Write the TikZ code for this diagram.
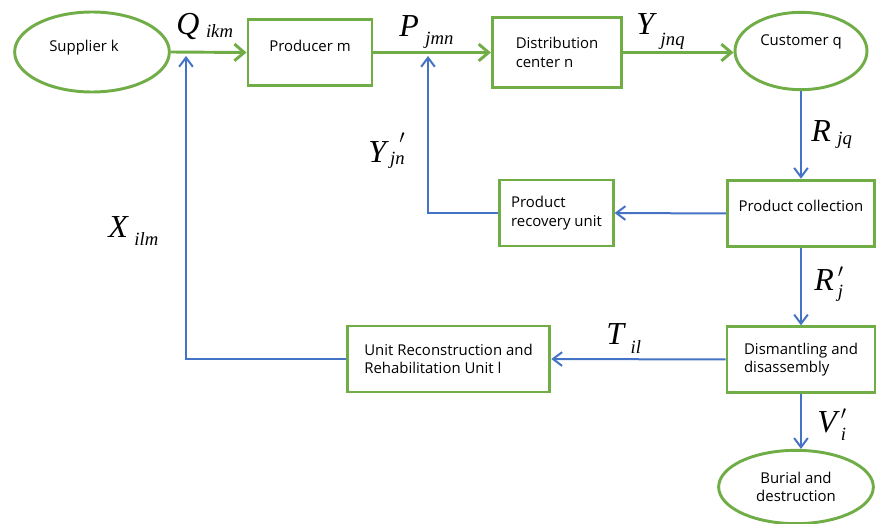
\documentclass[tikz,border=0pt]{standalone}
\usepackage{fontspec}
\setmainfont{Open Sans}
\newfontfamily\varfont{Liberation Serif}
\usetikzlibrary{arrows.meta,shapes.geometric}
\definecolor{leaf}{HTML}{70AD47}
\definecolor{steel}{HTML}{4472C4}
\newcommand\flowvar[3]{{\fontsize{24}{24}\selectfont #1}\hspace{5pt}%
  \raisebox{-#3}{\fontsize{14}{14}\selectfont #2}}
\newcommand\flowvarp[3]{{\fontsize{24}{24}\selectfont #1}\hspace{3pt}%
  \raisebox{-#3}{\fontsize{14}{14}\selectfont\shortstack[r]{%
    $\prime$\\[3pt]#2}}}

\begin{document}
\begin{tikzpicture}[
  x=0.75pt, y=-0.75pt,
  font=\fontsize{11.2}{14}\selectfont,
  stage/.style={draw=leaf, fill=white, line width=2.2pt,
                align=left, inner sep=2pt},
  site/.style={draw=leaf, fill=white, line width=2.2pt,
               ellipse, align=center, inner sep=1pt},
  fwd/.style={-{Straight Barb[length=2.6mm,width=4.4mm]},
              line width=2.2pt, draw=leaf},
  ret/.style={-{Straight Barb[length=2.4mm,width=3.6mm]},
              line width=1.5pt, draw=steel},
  qty/.style={font=\varfont\itshape, anchor=base west, inner sep=0pt},
]
\useasboundingbox (0,0) rectangle (876,524);

\node[site, minimum width=116pt, minimum height=60pt, text depth=10pt]
  (sup) at (92,52) {Supplier k\hspace*{12pt}};
\node[stage, minimum width=93pt, minimum height=50pt, text depth=10pt]
  (prod) at (310,52.5) {Producer m};
\node[stage, minimum width=97pt, minimum height=52pt]
  (dist) at (557,52.5) {Distribution\\ center n};
\node[site, minimum width=99pt, minimum height=58pt, text depth=16pt]
  (cust) at (801,51) {Customer q};

\node[stage, minimum width=110pt, minimum height=50pt, text depth=11pt]
  (pcol) at (801,213.5) {Product collection};
\node[stage, minimum width=85pt, minimum height=49.5pt]
  (prec) at (556.5,213) {Product\\ recovery unit};

\node[stage, minimum width=111pt, minimum height=49pt]
  (dism) at (801,359.5) {Dismantling and\\ disassembly};
\node[stage, minimum width=152pt, minimum height=49.5pt]
  (unit) at (448.5,359) {Unit Reconstruction and\\ Rehabilitation Unit l};
\node[site, minimum width=116pt, minimum height=55pt]
  (bur) at (796,487) {Burial and\\ destruction};

\coordinate (qi) at (186,56);
\coordinate (pj) at (428,56);

\draw[fwd] (sup.east) -- (prod.west);
\draw[fwd] (prod.east) -- (dist.west);
\draw[fwd] (dist.east) -- (dist.east -| cust.west);
\draw[ret] (cust.south) -- (pcol.north);
\draw[ret] (pcol.west) -- (prec.east);
\draw[ret] (prec.west) -| (pj);
\draw[ret] (pcol.south) -- (dism.north);
\draw[ret] (dism.west) -- (unit.east);
\draw[ret] (unit.west) -| (qi);
\draw[ret] (dism.south) -- (dism.south |- bur.north);

\node[qty] (lq) at (176,35) {\flowvar{Q}{ikm}{2pt}};
\node[qty] (lp) at (399,37) {\flowvar{P}{jmn}{6pt}};
\node[qty] (ly) at (636,35) {\flowvar{Y}{jnq}{8pt}};
\node[qty] (lyr) at (368,163) {\flowvarp{Y}{jn}{1pt}};
\node[qty] (lr) at (811,142) {\flowvar{R}{jq}{2pt}};
\node[qty] (lx) at (108,238) {\flowvar{X}{ilm}{6pt}};
\node[qty] (lrr) at (814,291) {\flowvarp{R}{j}{5pt}};
\node[qty] (lt) at (606,345) {\flowvar{T}{il}{6pt}};
\node[qty] (lv) at (817,432) {\flowvarp{V}{i}{6pt}};
\end{tikzpicture}
\end{document}
